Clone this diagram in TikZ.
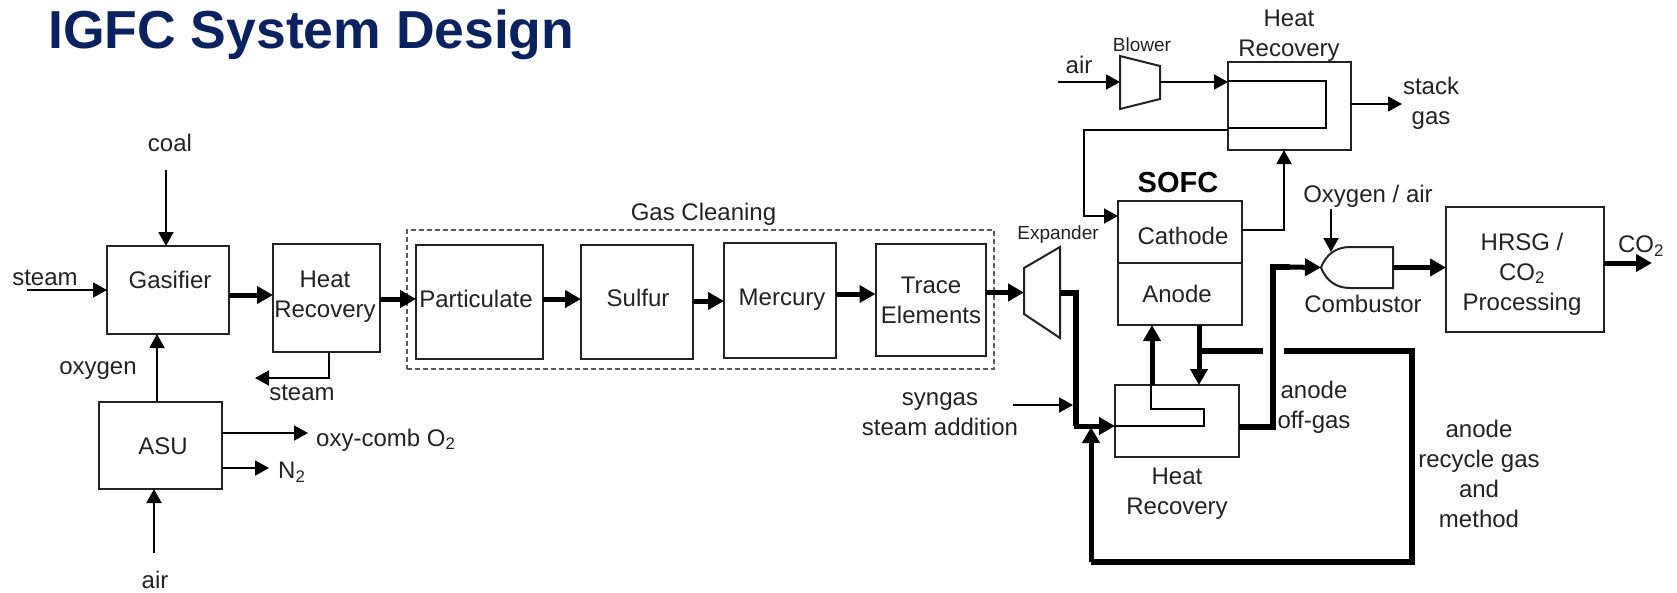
\documentclass[tikz,border=0pt]{standalone}
\usepackage{fontspec}
\setmainfont{Liberation Sans}
\usepackage{xcolor}
\usetikzlibrary{arrows.meta,calc}
\definecolor{IgfcNavy}{HTML}{0A2260}
\definecolor{LineInk}{HTML}{222222}

\begin{document}
\begin{tikzpicture}[
  x=1pt,y=-1pt,
  unit/.style={draw=LineInk,line width=2pt,fill=white,inner sep=0pt,outer sep=0pt},
  machine/.style={inner sep=0pt,outer sep=0pt},
  lbl/.style={text=LineInk,font=\fontsize{24}{30}\selectfont,align=center,inner sep=0pt},
  smalllbl/.style={text=LineInk,font=\fontsize{19}{23}\selectfont,inner sep=0pt},
  pipe/.style={draw=black,line width=1.9pt},
  arr/.style={pipe,-{Triangle[length=14pt,width=15pt]}},
  bigpipe/.style={draw=black,line width=6pt},
  bigarr/.style={draw=black,line width=5pt,-{Triangle[length=16pt,width=17pt]}}
]
\useasboundingbox (0,0) rectangle (1677,592);

\node[anchor=west,text=IgfcNavy,inner sep=0pt,font=\fontsize{53.5}{60}\selectfont\bfseries] (title) at (48,35) {IGFC System Design};

\node[draw=black!65,line width=1.2pt,dash pattern=on 5pt off 3pt,inner sep=0pt,minimum width=587,minimum height=139] (cleaning) at (700.5,299.5) {};
\node[lbl] (cleaninglbl) at (703.5,214) {Gas Cleaning};

\node[unit,minimum width=122,minimum height=88] (gasifier) at (168,290) {};
\node[lbl] (gasifierlbl) at (170,280) {Gasifier};
\node[unit,minimum width=107,minimum height=108] (hrone) at (326.5,298) {};
\node[lbl] (hronelbl) at (325,297) {Heat\\Recovery};
\node[unit,minimum width=123,minimum height=87] (asu) at (160.5,445.5) {};
\node[lbl] (asulbl) at (163,446) {ASU};

\node[unit,minimum width=127,minimum height=114] (particulate) at (479.5,302) {};
\node[lbl] (particulatelbl) at (476,299) {Particulate};
\node[unit,minimum width=112,minimum height=114] (sulfur) at (637,302) {};
\node[lbl] (sulfurlbl) at (638,298) {Sulfur};
\node[unit,minimum width=112,minimum height=115] (mercury) at (780,300.5) {};
\node[lbl] (mercurylbl) at (782,300) {Mercury};
\node[unit,minimum width=110,minimum height=112] (trace) at (930.5,300) {};
\node[lbl] (tracelbl) at (931,300) {Trace\\Elements};

\node[machine,minimum width=36,minimum height=91] (expander) at (1042,292.5) {};
\draw[unit] ($(expander.north west)+(0,21)$) -- (expander.north east) -- (expander.south east) -- ($(expander.south west)+(0,-24)$) -- cycle;
\node[smalllbl] (expanderlbl) at (1058,235) {Expander};
\node[machine,minimum width=40,minimum height=53] (blower) at (1140,82.5) {};
\draw[unit] (blower.north west) -- ($(blower.north east)+(0,10)$) -- ($(blower.south east)+(0,-10)$) -- (blower.south west) -- cycle;
\node[smalllbl] (blowerlbl) at (1142,45) {Blower};

\node[unit,minimum width=123,minimum height=88] (hrtop) at (1289.5,106) {};
\node[lbl] (hrtoplbl) at (1289,36) {Heat\\Recovery};
\node[unit,minimum width=124,minimum height=62] (cathode) at (1180,232) {};
\node[lbl] (cathodelbl) at (1183,236) {Cathode};
\node[unit,minimum width=124,minimum height=62] (anode) at (1180,294) {};
\node[lbl] (anodelbl) at (1177,294) {Anode};
\node[text=black,inner sep=0pt,font=\fontsize{29}{32}\selectfont\bfseries] (sofclbl) at (1178,183) {SOFC};
\node[unit,minimum width=124,minimum height=72] (hrtwo) at (1177,421) {};
\node[lbl] (hrtwolbl) at (1177,494) {Heat\\Recovery};

\node[machine,minimum width=72,minimum height=41] (combustor) at (1357,267.5) {};
\draw[unit] (combustor.north east) -- ($(combustor.north west)+(29,0)$) .. controls ($(combustor.north west)+(15,0)$) and ($(combustor.west)+(5,-13)$) .. (combustor.west) .. controls ($(combustor.west)+(5,13)$) and ($(combustor.south west)+(15,0)$) .. ($(combustor.south west)+(29,0)$) -- (combustor.south east) -- cycle;
\node[lbl] (combustorlbl) at (1363,304) {Combustor};
\node[unit,minimum width=158,minimum height=125] (hrsg) at (1525,269.5) {};
\node[lbl] (hrsglbl) at (1522,274) {HRSG /\\CO\textsubscript{2}\\Processing};

\node[lbl] (coallbl) at (170,143) {coal};
\node[lbl] (steamlbl) at (45,278) {steam};
\node[lbl] (oxygenlbl) at (98,371) {oxygen};
\node[lbl] (steamoutlbl) at (302,393) {steam};
\node[lbl,anchor=west] (oxylbl) at (316,440) {oxy-comb O\textsubscript{2}};
\node[lbl,anchor=west] (ntwolbl) at (278,472) {N\textsubscript{2}};
\node[lbl] (airlbl) at (155,580) {air};
\node[lbl] (blowairlbl) at (1079,65) {air};
\node[lbl] (stacklbl) at (1431,103) {stack\\gas};
\node[lbl] (syngaslbl) at (940,414) {syngas\\steam addition};
\node[lbl] (offgaslbl) at (1314,407) {anode\\off-gas};
\node[lbl] (recyclelbl) at (1479,474) {anode\\recycle gas\\and\\method};
\node[lbl] (oxyairlbl) at (1368,196) {Oxygen / air};
\node[lbl] (cotwolbl) at (1641,246) {CO\textsubscript{2}};

\coordinate (coalin) at (166,170);
\coordinate (steamin) at (27,290);
\coordinate (airin) at (154,553);
\coordinate (steamout) at (255,378);
\coordinate (oxyout) at (308,433);
\coordinate (ntwoout) at (269,468);
\coordinate (blowairin) at (1058,82);
\coordinate (stackout) at (1402,104);
\coordinate (syngasin) at (1013,405);
\coordinate (oxyairin) at (1331,209);
\coordinate (cotwoout) at (1652,263);
\coordinate (joinin) at (1073,405);
\coordinate (recyclea) at (1199,351);
\coordinate (recycleb) at (1263,351);
\coordinate (recyclec) at (1284,351);
\coordinate (recycled) at (1412,351);
\coordinate (recyclee) at (1412,562);
\coordinate (recyclef) at (1091,562);
\coordinate (recycleg) at (1091,427);

\draw[arr] (coalin) -- (gasifier.north -| coalin);
\draw[arr] (steamin) -- (gasifier.west |- steamin);
\draw[arr] (asu.north -| 157,0) -- (gasifier.south -| 157,0);
\draw[arr] (airin) -- (asu.south -| airin);
\draw[arr] (asu.east |- oxyout) -- (oxyout);
\draw[arr] (asu.east |- ntwoout) -- (ntwoout);
\draw[arr] (hrone.south -| 329,0) |- (steamout);

\draw[bigarr] (gasifier.east |- 0,295) -- (hrone.west |- 0,295);
\draw[bigarr] (hrone.east |- 0,299) -- (particulate.west |- 0,299);
\draw[bigarr] (particulate.east |- 0,299) -- (sulfur.west |- 0,299);
\draw[bigarr] (sulfur.east |- 0,301) -- (mercury.west |- 0,301);
\draw[bigarr] (mercury.east |- 0,294) -- (trace.west |- 0,294);
\draw[bigarr] (trace.east |- expander.west) -- (expander.west);

\draw[arr] (blowairin) -- (blower.west |- blowairin);
\draw[arr] (blower.east |- blowairin) -- (hrtop.west |- blowairin);
\draw[pipe] (hrtop.west |- 0,81) -| (1326,128) -- (hrtop.west |- 0,128);
\draw[arr] (hrtop.west |- 0,130) -| (1084,216) -- (cathode.west |- 0,216);
\draw[arr] (cathode.east |- 0,230) -| (hrtop.south -| 1284,0);
\draw[arr] (hrtop.east |- stackout) -- (stackout);
\draw[arr] (syngasin) -- (joinin);

\draw[bigpipe] (expander.east) -| (1076,426);
\draw[bigarr] (1073.5,426) -- (hrtwo.west |- 0,426);
\draw[pipe] (hrtwo.west |- 0,426) -| (1204,409) -| (hrtwo.north -| 1151,0);
\draw[bigarr] (hrtwo.north -| 1152,0) -- (anode.south -| 1152,0);
\draw[bigarr] (anode.south -| recyclea) -- (hrtwo.north -| recyclea);
\draw[bigpipe] (recyclea) -- (recycleb);
\draw[bigpipe] (recyclec) -- (recycled) -- (recyclee) -- (recyclef);
\draw[bigarr] (recyclef) -- (recycleg);
\draw[bigpipe] (hrtwo.east |- 0,427) -| (1273,267) -- (1290,267);
\draw[bigarr] (1285,267) -- (combustor.west);
\draw[arr] (oxyairin) -- (1331,252);
\draw[bigarr] (combustor.east) -- (hrsg.west |- combustor.east);
\draw[bigarr] (hrsg.east |- cotwoout) -- (cotwoout);
\end{tikzpicture}
\end{document}
